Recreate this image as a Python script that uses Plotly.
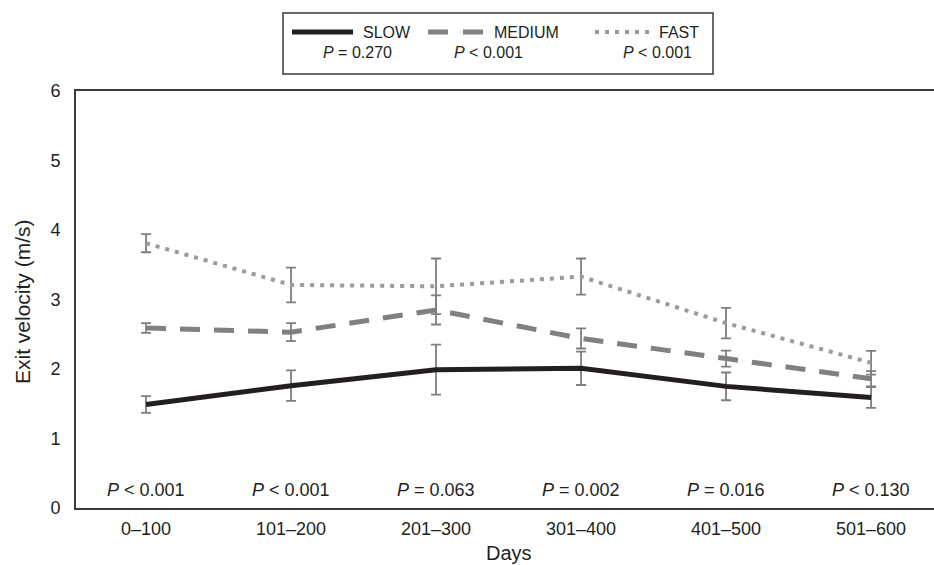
import plotly.graph_objects as go

categories = ["0–100", "101–200", "201–300", "301–400", "401–500", "501–600"]
slow = [1.49, 1.76, 1.99, 2.01, 1.75, 1.59]
slow_err = [0.12, 0.22, 0.36, 0.24, 0.20, 0.15]
medium = [2.59, 2.53, 2.85, 2.44, 2.15, 1.86]
medium_err = [0.07, 0.13, 0.21, 0.145, 0.115, 0.11]
fast = [3.81, 3.21, 3.19, 3.33, 2.66, 2.09]
fast_err = [0.13, 0.25, 0.40, 0.26, 0.22, 0.17]
day_pvalues = ["<i>P</i> < 0.001", "<i>P</i> < 0.001", "<i>P</i> = 0.063",
               "<i>P</i> = 0.002", "<i>P</i> = 0.016", "<i>P</i> < 0.130"]
series_names = ["SLOW", "MEDIUM", "FAST"]
series_pvalues = ["<i>P</i> = 0.270", "<i>P</i> < 0.001", "<i>P</i> < 0.001"]

W, H = 934, 565
L, R, T, B = 76, 0, 91, 57
PW, PH = W - L - R, H - T - B

def px(x):
    return (x - L) / PW

def py(y):
    return (H - B - y) / PH

FONT = "Liberation Sans, Arial, sans-serif"
ERR_COLOR = "#7f7f7f"
xs = list(range(len(categories)))

fig = go.Figure()
styles = [
    dict(values=fast, err=fast_err, color="#9b9b9d", width=4, dash="4px,6px"),
    dict(values=medium, err=medium_err, color="#808082", width=5, dash="20px,14px"),
    dict(values=slow, err=slow_err, color="#231f20", width=5, dash="solid"),
]
for s in styles:
    fig.add_trace(go.Scatter(
        x=xs, y=s["values"], mode="lines",
        line=dict(color=s["color"], width=s["width"], dash=s["dash"]),
        error_y=dict(type="data", array=s["err"], visible=True,
                     color=ERR_COLOR, thickness=1.8, width=5),
        showlegend=False, hoverinfo="skip",
    ))

annotations = []
for i, t in enumerate(day_pvalues):
    annotations.append(dict(x=i, y=0.26, xref="x", yref="y", text=t,
                            showarrow=False, font=dict(size=18, color="#231f20", family=FONT),
                            xanchor="center", yanchor="middle"))

# axis titles
annotations.append(dict(x=px(509), y=py(553), xref="paper", yref="paper", text="Days",
                        showarrow=False, font=dict(size=20, color="#231f20", family=FONT),
                        xanchor="center", yanchor="middle"))
annotations.append(dict(x=px(22), y=py(301), xref="paper", yref="paper",
                        text="Exit velocity (m/s)", textangle=-90,
                        showarrow=False, font=dict(size=21, color="#231f20", family=FONT),
                        xanchor="center", yanchor="middle"))

# custom legend
shapes = [dict(type="rect", xref="paper", yref="paper",
               x0=px(283), x1=px(713), y0=py(74), y1=py(13),
               line=dict(color="#3a3a3a", width=1.5), fillcolor="rgba(0,0,0,0)")]
legend_lines = [
    dict(x0=292, x1=353, color="#231f20", width=5, dash="solid"),
    dict(x0=428, x1=483, color="#808082", width=5, dash="20px,15px"),
    dict(x0=595, x1=650, color="#9b9b9d", width=4, dash="4px,6px"),
]
for ll in legend_lines:
    shapes.append(dict(type="line", xref="paper", yref="paper",
                       x0=px(ll["x0"]), x1=px(ll["x1"]), y0=py(32), y1=py(32),
                       line=dict(color=ll["color"], width=ll["width"], dash=ll["dash"])))
name_x = [361, 492, 657]
pval_x = [357, 488, 657]
for n, nx, p, pxx in zip(series_names, name_x, series_pvalues, pval_x):
    annotations.append(dict(x=px(nx), y=py(32), xref="paper", yref="paper", text=n,
                            showarrow=False, font=dict(size=16, color="#231f20", family=FONT),
                            xanchor="left", yanchor="middle"))
    annotations.append(dict(x=px(pxx), y=py(53), xref="paper", yref="paper", text=p,
                            showarrow=False, font=dict(size=16, color="#231f20", family=FONT),
                            xanchor="center", yanchor="middle"))

fig.update_layout(
    width=W, height=H,
    margin=dict(l=L, r=R, t=T, b=B, pad=0),
    paper_bgcolor="white", plot_bgcolor="white",
    font=dict(family=FONT, color="#231f20"),
    xaxis=dict(range=[-0.483, 5.434], tickmode="array", tickvals=xs, ticktext=categories,
               showgrid=False, zeroline=False, showline=True, linecolor="#3a3a3a",
               linewidth=2, mirror=True, ticks="", tickfont=dict(size=18),
               ticklabelstandoff=3),
    yaxis=dict(range=[0, 6], tickvals=[0, 1, 2, 3, 4, 5, 6], showgrid=False,
               zeroline=False, showline=True, linecolor="#3a3a3a", linewidth=2,
               ticks="", tickfont=dict(size=18), ticklabelstandoff=10),
    annotations=annotations,
    shapes=shapes,
)

fig.write_html("out.html", config={"displayModeBar": False},
               post_script="document.body.style.margin='0';document.body.style.overflow='hidden';")
